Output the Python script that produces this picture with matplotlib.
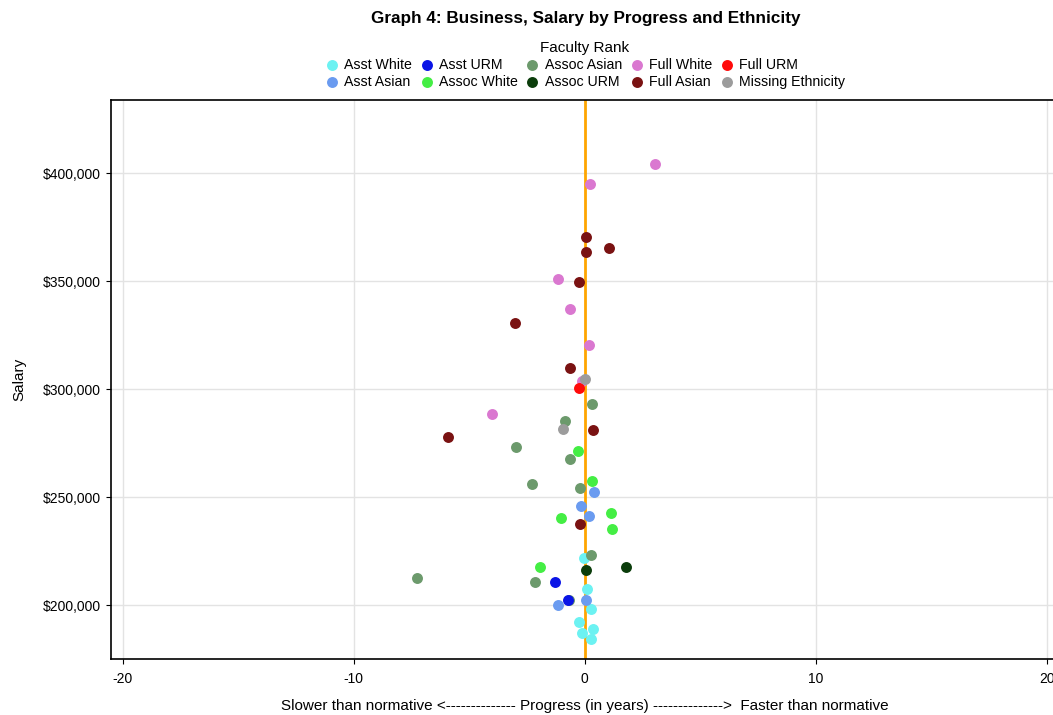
import matplotlib.pyplot as plt
from matplotlib.ticker import FuncFormatter

plt.rcParams['font.family'] = ['Liberation Sans', 'DejaVu Sans']
plt.rcParams['axes.unicode_minus'] = False

# progress (years) and salary per faculty group
asst_white_x = [-0.03, 0.09, 0.25, -0.26, 0.35, -0.12, 0.25]
asst_white_y = [221900, 207600, 198000, 192300, 188900, 187200, 184100]
asst_asian_x = [0.38, -0.17, 0.16, 0.04, -1.15]
asst_asian_y = [252200, 245800, 241100, 202500, 200200]
asst_urm_x = [-1.27, -0.75]
asst_urm_y = [210500, 202500]
assoc_white_x = [-0.29, 0.32, -1.04, 1.15, 1.18, -1.95]
assoc_white_y = [271300, 257300, 240300, 242700, 235200, 217700]
assoc_asian_x = [0.32, -0.84, -2.96, -0.64, -2.29, -0.19, 0.26, -7.26, -2.15, -0.68]
assoc_asian_y = [293100, 285200, 273300, 267700, 256300, 254200, 223000, 212400, 210500, 202500]
assoc_urm_x = [0.07, 1.76]
assoc_urm_y = [216300, 217700]
full_white_x = [3.03, 0.22, -1.15, -0.65, 0.17, -0.14, -4.01]
full_white_y = [404200, 395200, 350900, 337400, 320400, 303800, 288300]
full_asian_x = [0.03, 0.04, 1.05, -0.26, -3.03, -0.64, 0.36, -5.94, -0.23]
full_asian_y = [370700, 363700, 365300, 349700, 330900, 310000, 281300, 277900, 237400]
full_urm_x = [-0.25]
full_urm_y = [300500]
missing_x = [0.0, -0.94]
missing_y = [304800, 281600]

groups = [
    ('Asst White', asst_white_x, asst_white_y, '#6CF2F2'),
    ('Asst Asian', asst_asian_x, asst_asian_y, '#6A9BF0'),
    ('Asst URM', asst_urm_x, asst_urm_y, '#0A14E6'),
    ('Assoc White', assoc_white_x, assoc_white_y, '#44EE44'),
    ('Assoc Asian', assoc_asian_x, assoc_asian_y, '#6C9A6C'),
    ('Assoc URM', assoc_urm_x, assoc_urm_y, '#0B3D0B'),
    ('Full White', full_white_x, full_white_y, '#DA78D0'),
    ('Full Asian', full_asian_x, full_asian_y, '#7A1212'),
    ('Full URM', full_urm_x, full_urm_y, '#FF0A0A'),
    ('Missing Ethnicity', missing_x, missing_y, '#9C9C9C'),
]

fig = plt.figure(figsize=(10.53, 7.15), dpi=100)
ax = fig.add_axes([0.1054, 0.0783, 0.900, 0.7818])

ax.axvline(0, color='#FFA500', lw=2, zorder=2)
for name, xs, ys, col in groups:
    z = 4 if name == 'Asst URM' else 3
    ax.scatter(xs, ys, s=62, color=col, label=name, zorder=z, linewidths=0)

ax.set_xlim(-20.5, 20.5)
ax.set_ylim(175000, 434000)
ax.set_xticks([-20, -10, 0, 10, 20])
ax.set_yticks([200000, 250000, 300000, 350000, 400000])
ax.yaxis.set_major_formatter(FuncFormatter(lambda v, p: '${:,.0f}'.format(v)))
ax.grid(True, color='#E3E3E3', lw=1, zorder=0)
ax.set_axisbelow(True)
ax.tick_params(labelsize=10)
ax.tick_params(axis='x', pad=6)
for s in ax.spines.values():
    s.set_linewidth(1.2)

ax.set_xlabel('Slower than normative <-------------- Progress (in years) -------------->  Faster than normative',
              fontsize=11, labelpad=9)
ax.set_ylabel('Salary', fontsize=11, labelpad=12)

leg = ax.legend(title='Faculty Rank', ncol=5, loc='lower center', bbox_to_anchor=(0.5, 1.005),
                frameon=False, fontsize=10.2, title_fontsize=11, handletextpad=0.35,
                columnspacing=0.55, labelspacing=0.22, handlelength=1.0, borderpad=0.1,
                markerscale=1.0)

fig.suptitle('Graph 4: Business, Salary by Progress and Ethnicity', fontsize=12.3, fontweight='bold',
             x=0.556, y=0.985)

fig.savefig('out.png', dpi=100)
